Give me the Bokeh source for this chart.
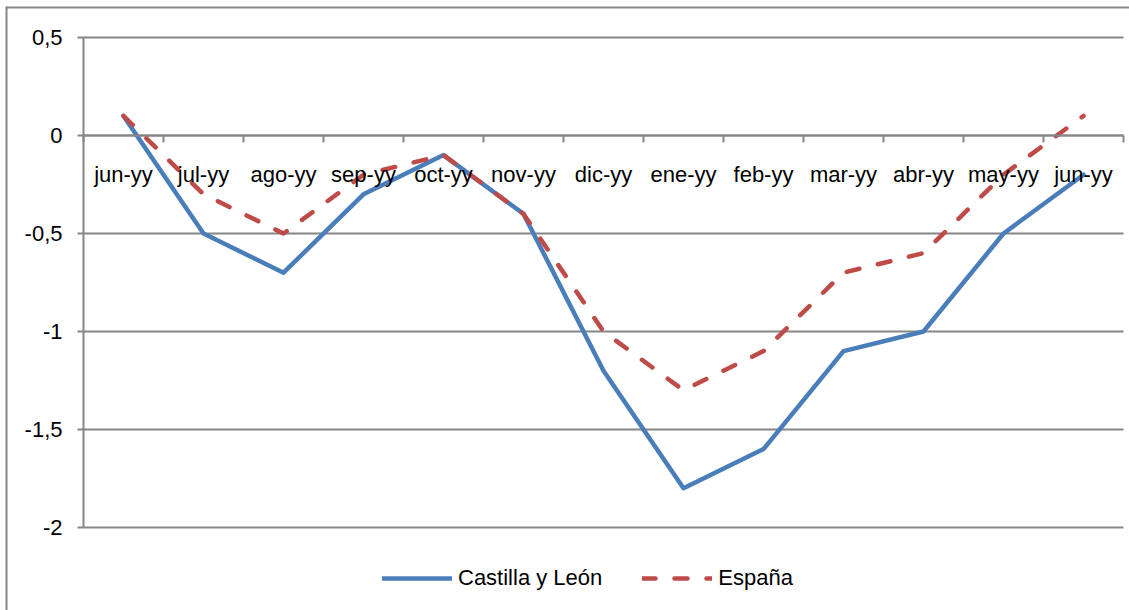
from bokeh.plotting import figure
from bokeh.models import (Range1d, LinearAxis, FixedTicker, Legend, LegendItem,
                          BoxAnnotation)
from bokeh.embed import file_html
from bokeh.resources import INLINE

# ---- data ----
categories = ["jun-yy", "jul-yy", "ago-yy", "sep-yy", "oct-yy", "nov-yy", "dic-yy",
              "ene-yy", "feb-yy", "mar-yy", "abr-yy", "may-yy", "jun-yy"]
castilla = [0.1, -0.5, -0.7, -0.3, -0.1, -0.4, -1.2, -1.8, -1.6, -1.1, -1.0, -0.5, -0.2]
espana = [0.1, -0.3, -0.5, -0.2, -0.1, -0.4, -1.0, -1.3, -1.1, -0.7, -0.6, -0.2, 0.1]
y_ticks = [-2, -1.5, -1, -0.5, 0, 0.5]
y_labels = ["-2", "-1,5", "-1", "-0,5", "0", "0,5"]
series_names = ["Castilla y León", "España"]

FONT = "Liberation Sans"
FS = "22px"
GRID = "#868686"
BLUE = "#4A7EBB"
RED = "#BE4B48"

W, H = 1129, 610
# plot area in pixels: left 83, right 1123, top 37 (0.5), bottom 527 (-2)
PL, PR, PT, PB = 83, 1123, 37, 527
n = len(categories)
xs = list(range(n))
x_lo, x_hi = -0.5, n - 0.5
y_lo, y_hi = min(y_ticks), max(y_ticks)
px_x = (PR - PL) / (x_hi - x_lo)
px_y = (PB - PT) / (y_hi - y_lo)

p = figure(width=W, height=H, output_backend="svg", toolbar_location=None,
           x_range=Range1d(x_lo - PL / px_x, x_hi + (W - PR) / px_x),
           y_range=Range1d(y_lo - (H - PB) / px_y, y_hi + PT / px_y),
           x_axis_location=None, y_axis_location=None,
           min_border_left=0, min_border_right=0, min_border_top=0, min_border_bottom=0)
p.outline_line_color = None
p.background_fill_color = "white"
p.border_fill_color = "white"
p.xgrid.visible = False
p.ygrid.visible = False

# horizontal gridlines across the plot area
p.segment(x0=[x_lo] * len(y_ticks), x1=[x_hi] * len(y_ticks), y0=y_ticks, y1=y_ticks,
          line_color=GRID, line_width=2)

# y axis at left edge of plot area
yax = LinearAxis(fixed_location=x_lo, bounds=(y_lo, y_hi),
                 ticker=FixedTicker(ticks=y_ticks, minor_ticks=[]))
yax.major_label_overrides = {t: l for t, l in zip(y_ticks, y_labels)}
yax.axis_line_color = GRID
yax.axis_line_width = 2
yax.major_tick_line_color = GRID
yax.major_tick_line_width = 2
yax.major_tick_in = 0
yax.major_tick_out = 6
yax.minor_tick_line_color = None
yax.major_label_standoff = 15
yax.major_label_text_font = FONT
yax.major_label_text_font_size = FS
yax.major_label_text_color = "black"
p.add_layout(yax, "left")

# category axis at y = 0
xax = LinearAxis(fixed_location=0, bounds=(x_lo, x_hi),
                 ticker=FixedTicker(ticks=xs, minor_ticks=[x - 0.5 for x in xs] + [x_hi]))
xax.major_label_overrides = {x: c for x, c in zip(xs, categories)}
xax.axis_line_color = GRID
xax.axis_line_width = 2
xax.major_tick_line_color = None
xax.major_tick_in = 0
xax.major_tick_out = 0
xax.minor_tick_line_color = GRID
xax.minor_tick_line_width = 2
xax.minor_tick_in = 0
xax.minor_tick_out = 7
xax.major_label_standoff = 19
xax.major_label_text_font = FONT
xax.major_label_text_font_size = FS
xax.major_label_text_color = "black"
p.add_layout(xax, "below")

r1 = p.line(xs, castilla, line_color=BLUE, line_width=4.5, line_join="round", line_cap="round")
r2 = p.line(xs, espana, line_color=RED, line_width=4.5, line_join="round", line_cap="round",
            line_dash="13 19")

legend = Legend(items=[LegendItem(label=series_names[0], renderers=[r1]),
                       LegendItem(label=series_names[1], renderers=[r2])],
                location=(382, 19), orientation="horizontal")
legend.glyph_width = 70
legend.label_standoff = 6
legend.spacing = 40
legend.padding = 0
legend.margin = 0
legend.border_line_color = None
legend.background_fill_alpha = 0
legend.label_text_font = FONT
legend.label_text_font_size = FS
legend.label_text_color = "black"
p.add_layout(legend, "center")

# outer chart border: only the top and left edges fall inside the picture
top_edge = BoxAnnotation(left=6, right=W, top=6, bottom=8,
                         left_units="canvas", right_units="canvas",
                         top_units="canvas", bottom_units="canvas",
                         fill_color=GRID, fill_alpha=1, line_color=None)
left_edge = BoxAnnotation(left=5, right=7, top=6, bottom=H,
                          left_units="canvas", right_units="canvas",
                          top_units="canvas", bottom_units="canvas",
                          fill_color=GRID, fill_alpha=1, line_color=None)
p.add_layout(top_edge)
p.add_layout(left_edge)

open("out.html", "w").write(file_html(p, INLINE))
